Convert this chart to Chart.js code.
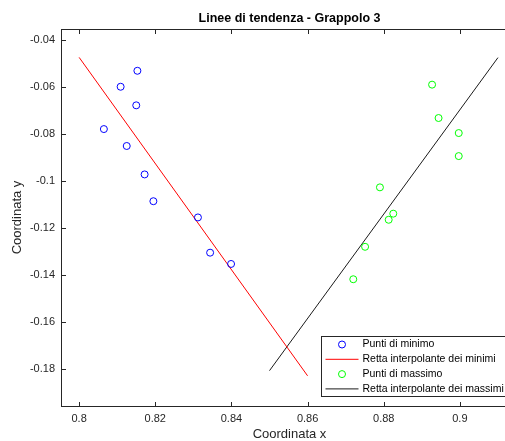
<!DOCTYPE html>
<html>
<head>
<meta charset="utf-8">
<script src="https://cdn.jsdelivr.net/npm/chart.js@4.4.0/dist/chart.umd.min.js"></script>
<style>
  html, body { margin:0; padding:0; background:#fff; overflow:hidden; }
  canvas { display:block; }
</style>
</head>
<body>
<canvas id="grafico" width="530" height="441"></canvas>
<script>
// ------------------------------------------------------------
// dati (Grappolo 3)
// ------------------------------------------------------------
const minX = [0.8065, 0.8109, 0.8153, 0.8150, 0.8125, 0.8172, 0.8195, 0.8312, 0.8344, 0.8399];
const minY = [-0.0779, -0.0599, -0.0531, -0.0678, -0.0851, -0.0972, -0.1086, -0.1155, -0.1305, -0.1353];

const maxX = [0.8927, 0.8944, 0.8997, 0.8997, 0.8790, 0.8825, 0.8813, 0.8751, 0.8720];
const maxY = [-0.0590, -0.0732, -0.0796, -0.0894, -0.1027, -0.1139, -0.1165, -0.1280, -0.1418];

// estremi delle rette interpolanti
const rettaMinX = [0.80, 0.86];
const rettaMinY = [-0.0474, -0.1829];
const rettaMaxX = [0.85, 0.91];
const rettaMaxY = [-0.1807, -0.0475];

const xTicks = [0.8, 0.82, 0.84, 0.86, 0.88, 0.9];
const yTicks = [-0.18, -0.16, -0.14, -0.12, -0.1, -0.08, -0.06, -0.04];

const etichette = ['Punti di minimo', 'Retta interpolante dei minimi', 'Punti di massimo', 'Retta interpolante dei massimi'];

const FONT = '"Liberation Sans", Arial, Helvetica, sans-serif';
const AXIS = '#262626';

const toPts = (xs, ys) => xs.map((x, i) => ({ x, y: ys[i] }));

// cornice stile MATLAB: box + tacche verso l'interno + legenda
const cornice = {
  id: 'cornice',
  afterDraw(chart){
    const { ctx, chartArea: ca, scales } = chart;
    const L = Math.round(ca.left) - 0.5, R = Math.round(ca.right) - 0.5;
    const T = Math.round(ca.top) + 0.5, B = Math.round(ca.bottom) + 0.5;
    ctx.save();
    ctx.strokeStyle = AXIS; ctx.lineWidth = 1;
    ctx.strokeRect(L, T, R - L, B - T);
    ctx.beginPath();
    xTicks.forEach(v => {
      const px = Math.round(scales.x.getPixelForValue(v)) + 0.5;
      ctx.moveTo(px, B); ctx.lineTo(px, B - 4.5);
      ctx.moveTo(px, T); ctx.lineTo(px, T + 4.5);
    });
    yTicks.forEach(v => {
      const py = Math.round(scales.y.getPixelForValue(v)) + 0.5;
      ctx.moveTo(L, py); ctx.lineTo(L + 4.5, py);
    });
    ctx.stroke();

    // legenda
    const lx = Math.round(ca.right) - 196 + 0.5, ly = Math.round(ca.bottom) - 70 + 0.5;
    const lw = 187, lh = 60;
    ctx.fillStyle = '#fff';
    ctx.fillRect(lx, ly, lw, lh);
    ctx.strokeStyle = AXIS;
    ctx.strokeRect(lx, ly, lw, lh);
    ctx.font = '10.5px ' + FONT;
    ctx.textBaseline = 'middle';
    ctx.textAlign = 'left';
    chart.data.datasets.forEach((ds, i) => {
      const cy = ly + 8 + i * 14.8;
      ctx.strokeStyle = ds.borderColor;
      ctx.lineWidth = 1;
      ctx.beginPath();
      if(ds.showLine){
        ctx.moveTo(lx + 4, cy); ctx.lineTo(lx + 37, cy);
      } else {
        ctx.arc(lx + 20.5, cy, 3.5, 0, Math.PI * 2);
      }
      ctx.stroke();
      ctx.fillStyle = '#000';
      ctx.fillText(ds.label, lx + 41, cy);
    });
    ctx.restore();
  }
};

const ctx = document.getElementById('grafico');
new Chart(ctx, {
  type: 'scatter',
  data: {
    datasets: [
      { label: etichette[0], data: toPts(minX, minY), showLine: false,
        borderColor: '#0000ff', backgroundColor: 'rgba(0,0,0,0)',
        pointRadius: 3.5, pointBorderWidth: 1, pointHoverRadius: 3.5 },
      { label: etichette[1], data: toPts(rettaMinX, rettaMinY), showLine: true,
        borderColor: '#ff0000', borderWidth: 1, pointRadius: 0, fill: false },
      { label: etichette[2], data: toPts(maxX, maxY), showLine: false,
        borderColor: '#00ff00', backgroundColor: 'rgba(0,0,0,0)',
        pointRadius: 3.5, pointBorderWidth: 1, pointHoverRadius: 3.5 },
      { label: etichette[3], data: toPts(rettaMaxX, rettaMaxY), showLine: true,
        borderColor: '#1a1a1a', borderWidth: 1, pointRadius: 0, fill: false }
    ]
  },
  options: {
    responsive: false,
    animation: false,
    events: [],
    layout: { padding: { left: 0, right: 13, top: 0, bottom: 0 } },
    plugins: {
      legend: { display: false },
      tooltip: { enabled: false },
      title: {
        display: true, fullSize: false,
        text: 'Linee di tendenza - Grappolo 3',
        color: '#000',
        font: { family: FONT, size: 12.5, weight: 'bold', lineHeight: 1.2 },
        padding: { top: 11, bottom: 3 }
      }
    },
    scales: {
      x: {
        type: 'linear', min: 0.7955, max: 0.915,
        grid: { display: false, drawTicks: false, tickLength: 0 }, border: { display: false },
        afterBuildTicks: (s) => { s.ticks = xTicks.map(v => ({ value: v })); },
        afterFit: (s) => { s.height = 35; },
        ticks: { color: AXIS, padding: 6, maxRotation: 0, autoSkip: false,
                 font: { family: FONT, size: 11 }, callback: (v) => String(v) },
        title: { display: true, text: 'Coordinata x', color: AXIS,
                 font: { family: FONT, size: 13 }, padding: { top: 0, bottom: -1.5 } }
      },
      y: {
        type: 'linear', min: -0.19574, max: -0.03532,
        grid: { display: false, drawTicks: false, tickLength: 0 }, border: { display: false },
        afterBuildTicks: (s) => { s.ticks = yTicks.map(v => ({ value: v })); },
        afterFit: (s) => { s.width = 62; },
        ticks: { color: AXIS, padding: 7, autoSkip: false,
                 font: { family: FONT, size: 11 }, callback: (v) => String(v) },
        title: { display: true, text: 'Coordinata y', color: AXIS,
                 font: { family: FONT, size: 13 }, padding: { top: 10, bottom: 0 } }
      }
    }
  },
  plugins: [cornice]
});
</script>
</body>
</html>
